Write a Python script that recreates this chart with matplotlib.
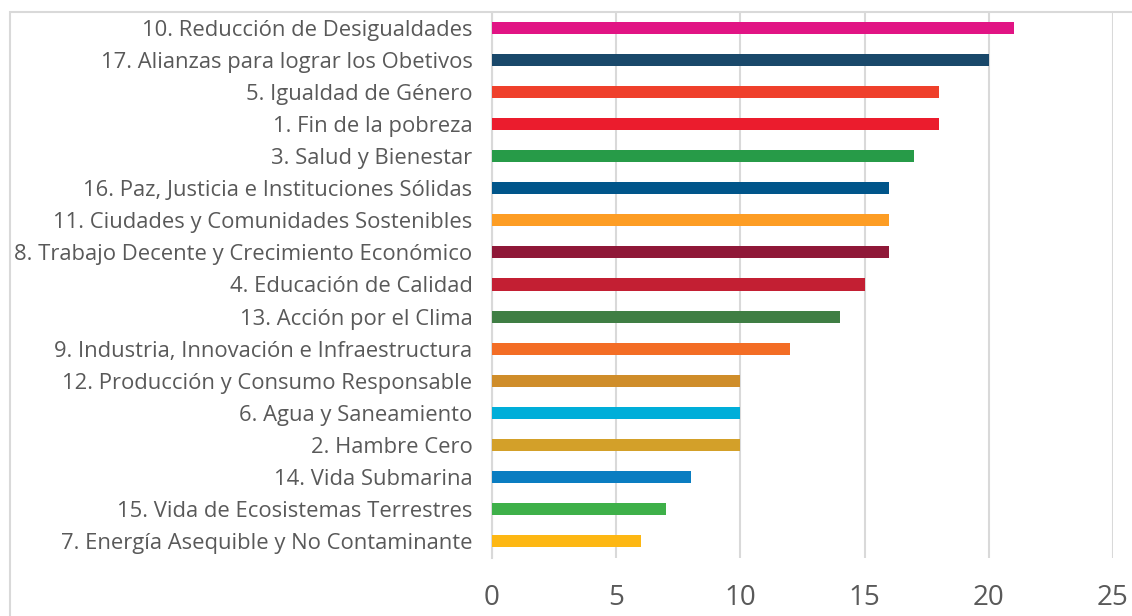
import matplotlib.pyplot as plt
from matplotlib.patches import Rectangle

# ODS, de abajo hacia arriba
labels = [
    "7. Energía Asequible y No Contaminante",
    "15. Vida de Ecosistemas Terrestres",
    "14. Vida Submarina",
    "2. Hambre Cero",
    "6. Agua y Saneamiento",
    "12. Producción y Consumo Responsable",
    "9. Industria, Innovación e Infraestructura",
    "13. Acción por el Clima",
    "4. Educación de Calidad",
    "8. Trabajo Decente y Crecimiento Económico",
    "11. Ciudades y Comunidades Sostenibles",
    "16. Paz, Justicia e Instituciones Sólidas",
    "3. Salud y Bienestar",
    "1. Fin de la pobreza",
    "5. Igualdad de Género",
    "17. Alianzas para lograr los Obetivos",
    "10. Reducción de Desigualdades",
]
values = [6, 7, 8, 10, 10, 10, 12, 14, 15, 16, 16, 16, 17, 18, 18, 20, 21]
colors = ["#FDB713", "#3EB049", "#0A7DC1", "#D3A029", "#00AED9", "#CF8D2A",
          "#F36D25", "#3F7E44", "#C31F33", "#8F1838", "#FD9D24", "#00558A",
          "#279B48", "#EB1C2D", "#EF402B", "#19486A", "#E11484"]
xticks = [0, 5, 10, 15, 20, 25]

plt.rcParams['font.family'] = ['Open Sans', 'DejaVu Sans']

fig = plt.figure(figsize=(11.32, 6.16), dpi=100)
ax = fig.add_axes([0.4346, 0.0942, 0.5486, 0.8848])

ypos = list(range(len(labels)))
ax.barh(ypos, values, height=0.375, color=colors, zorder=3)

ax.set_xlim(0, 25)
ax.set_ylim(-0.53, 16.47)
ax.set_xticks(xticks)
ax.set_yticks(ypos)
ax.set_yticklabels(labels, fontsize=15.8, color="#595959")
ax.tick_params(axis='x', labelsize=20, labelcolor="#595959", length=0, pad=19)
ax.tick_params(axis='y', length=0, pad=14)
ax.grid(axis='x', color="#D9D9D9", linewidth=1.5, zorder=0)
for s in ['top', 'right', 'bottom']:
    ax.spines[s].set_visible(False)
ax.spines['left'].set_color("#D9D9D9")
ax.spines['left'].set_linewidth(1.5)

# marco del gráfico
fig.patches.append(Rectangle((10 / 1132, -0.1), 1.2, 1 - 12 / 616 + 0.1,
                             transform=fig.transFigure, fill=False,
                             edgecolor="#D9D9D9", linewidth=1.5, zorder=0))

plt.savefig("out.png")
plt.close()
